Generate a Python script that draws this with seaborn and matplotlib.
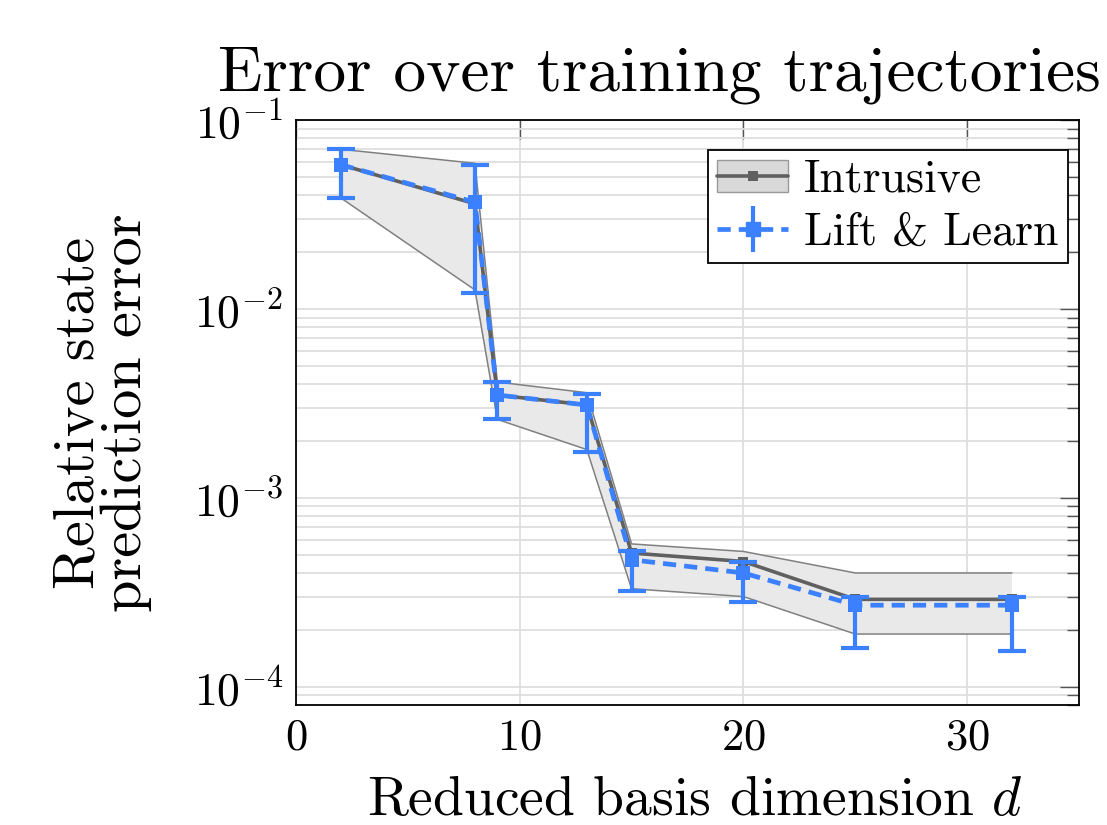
import numpy as np
import pandas as pd
import matplotlib
matplotlib.use("Agg")
import matplotlib.pyplot as plt
import seaborn as sns
from matplotlib.patches import Patch
from matplotlib.lines import Line2D
from matplotlib.legend_handler import HandlerTuple
from matplotlib.ticker import LogLocator, NullFormatter, FixedLocator

# ---------------- data ----------------
d = [2, 8, 9, 13, 15, 20, 25, 32]
intrusive = [0.058, 0.036, 0.0035, 0.0031, 0.00051, 0.00046, 0.00029, 0.00029]
intrusive_upper = [0.070, 0.059, 0.0041, 0.0036, 0.00057, 0.00052, 0.00040, 0.00040]
intrusive_lower = [0.0387, 0.0126, 0.0026, 0.0018, 0.00033, 0.00030, 0.00019, 0.00019]
lnl = [0.058, 0.0367, 0.0035, 0.0031, 0.00047, 0.00040, 0.00027, 0.00027]
lnl_upper = [0.070, 0.058, 0.0041, 0.00354, 0.00052, 0.00046, 0.00030, 0.00030]
lnl_lower = [0.0387, 0.0122, 0.0026, 0.00175, 0.00032, 0.00028, 0.00016, 0.000155]
x_ticks = [0, 10, 20, 30]

title = "Error over training trajectories"
xlabel = "Reduced basis dimension $d$"
ylabel = "Relative state\nprediction error"
labels = ["Intrusive", "Lift & Learn"]

BLUE = "#3b80ff"
GRAY = "#606060"

sns.set_style("white")
plt.rcParams["font.family"] = ["cmr10", "DejaVu Serif"]
plt.rcParams["mathtext.fontset"] = "cm"
plt.rcParams["axes.unicode_minus"] = False
plt.rcParams["axes.formatter.use_mathtext"] = True
plt.rcParams["text.color"] = "black"
plt.rcParams["axes.labelcolor"] = "black"
plt.rcParams["xtick.color"] = "black"
plt.rcParams["ytick.color"] = "black"

fig = plt.figure(figsize=(11.07, 8.25), dpi=100)
ax = fig.add_axes([296 / 1107, 1 - 705 / 825, (1079 - 296) / 1107, (705 - 120) / 825])

df = pd.DataFrame({"d": d, "intrusive": intrusive, "lnl": lnl})

ax.set_yscale("log")
ax.set_xlim(0, 35)
ax.set_ylim(8.0e-5, 1e-1)

# band
ax.fill_between(d, intrusive_lower, intrusive_upper, facecolor="#e9e9e9", edgecolor="none", zorder=2)
ax.plot(d, intrusive_upper, color="#808080", lw=1.1, zorder=2.1)
ax.plot(d, intrusive_lower, color="#808080", lw=1.1, zorder=2.1)

sns.lineplot(data=df, x="d", y="intrusive", ax=ax, color=GRAY, lw=2.6,
             marker="s", markersize=7, markeredgewidth=0, zorder=3, legend=False)

yerr = np.array([np.array(lnl) - np.array(lnl_lower), np.array(lnl_upper) - np.array(lnl)])
eb = ax.errorbar(d, lnl, yerr=yerr, fmt="none", ecolor=BLUE, elinewidth=3,
                 capsize=10, capthick=3, zorder=4)
sns.lineplot(data=df, x="d", y="lnl", ax=ax, color=BLUE, lw=3.4,
             marker="s", markersize=10, markeredgewidth=0, zorder=5, legend=False)
ax.lines[-1].set_dashes((2.8, 1.7))

# ticks & grid
ax.xaxis.set_major_locator(FixedLocator(x_ticks))
ax.yaxis.set_major_locator(LogLocator(base=10, numticks=10))
ax.yaxis.set_minor_locator(LogLocator(base=10, subs=np.arange(2, 10), numticks=20))
ax.yaxis.set_minor_formatter(NullFormatter())
ax.grid(True, which="major", axis="both", color="#dedede", lw=1.3, zorder=0)
ax.grid(True, which="minor", axis="y", color="#dedede", lw=1.3, zorder=0)
ax.set_axisbelow(True)
ax.tick_params(which="both", direction="in", top=True, right=True, color="#555555", width=1.0,
               labelcolor="black")
ax.tick_params(which="major", length=14)
ax.tick_params(axis="x", which="major", labelsize=32, pad=10)
ax.tick_params(axis="y", which="major", labelsize=33, pad=9)
ax.tick_params(which="minor", length=9)
ax.tick_params(axis="x", which="minor", bottom=False, top=False)
for s in ax.spines.values():
    s.set_color("black")
    s.set_linewidth(1.3)

ax.set_xlabel(xlabel, fontsize=40)
ax.xaxis.set_label_coords((695 - 296) / 783, (705 - 776) / 585)
ax.set_ylabel(ylabel, fontsize=42, linespacing=0.9)
ax.yaxis.set_label_coords((152 - 296) / 783, 0.5)
fig.text(659 / 1107, 1 - 90 / 825, title, fontsize=47, ha="center", va="baseline")

# legend
h_intr = (Patch(facecolor="#d9d9d9", edgecolor="#999999", lw=1.0),
          Line2D([], [], color=GRAY, lw=2.6, marker="s", markersize=7, markeredgewidth=0))
leg_lnl = ax.errorbar([], [], yerr=[], fmt="s", color=BLUE, ecolor=BLUE, elinewidth=3,
                      capsize=6, capthick=3, markersize=10, ls=(0, (2.8, 1.7)), lw=3.4)
leg = ax.legend([h_intr, leg_lnl], labels, handler_map={tuple: HandlerTuple(ndivide=1, pad=0)},
                loc="upper right", bbox_to_anchor=((1068 - 296) / 783, 1 - 30 / 585),
                fontsize=33, frameon=True, fancybox=False, framealpha=1, edgecolor="black",
                borderpad=0.2, handlelength=1.55, handletextpad=0.35, labelspacing=0.25,
                borderaxespad=0)
leg.get_frame().set_linewidth(1.3)

fig.savefig("out.png", dpi=100)
